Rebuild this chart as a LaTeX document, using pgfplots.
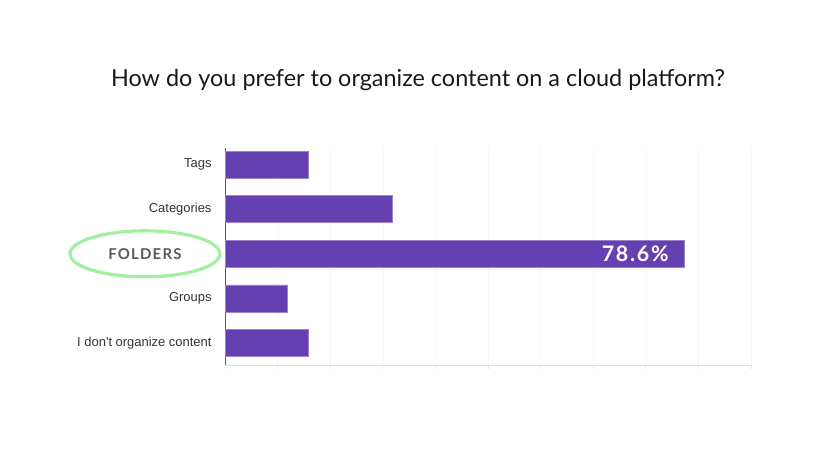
\documentclass[border=0pt]{standalone}
\usepackage{fontspec}
\setmainfont{Liberation Sans}
\newfontfamily\latof{Lato}
\newfontfamily\latosp[LetterSpace=8]{Lato}
\usepackage{pgfplots}
\pgfplotsset{compat=1.18}
\definecolor{barP}{HTML}{6540B1}
\definecolor{ringG}{HTML}{A2F09E}
\begin{document}
\begin{tikzpicture}[x=1bp,y=1bp]
\path[use as bounding box] (0,0) rectangle (835,466);
\node[font=\latof\fontsize{23.5}{27}\selectfont, text=black!90] at (418,386) {How do you prefer to organize content on a cloud platform?};
\begin{axis}[
  at={(225bp,101bp)}, anchor=south west, scale only axis,
  width=526bp, height=217bp,
  xbar, xmin=0, xmax=90, ymin=-0.49, ymax=4.37,
  bar width=27bp, clip=false,
  axis lines*=left,
  x axis line style={draw=black!12, line width=0.8bp},
  y axis line style={draw=black!65, line width=0.8bp},
  xtick={0,9,...,90}, xticklabels={},
  tick align=outside, major tick length=4bp,
  xtick style={draw=black!10, line width=0.8bp},
  ytick style={draw=none},
  xmajorgrids, major grid style={draw=black!3, line width=0.6bp},
  ytick={0,1,2,3,4},
  yticklabels={I don{\textquotesingle}t organize content,Groups,{},Categories,Tags},
  yticklabel style={font=\fontsize{13}{15}\selectfont, text=black!80, xshift=-6bp},
]
\addplot[fill=barP, draw=barP!65!white, line width=0.8bp] coordinates {
  (14.3,0) (10.7,1) (78.6,2) (28.6,3) (14.3,4)};
\node[anchor=east, text=white, font=\latosp\bfseries\fontsize{21.5}{25}\selectfont] at (axis cs:76.5,2) {78.6\%};
\node[text=black!65, font=\latosp\bfseries\fontsize{15}{18}\selectfont] at (axis cs:-13.7,2) {FOLDERS};
\draw[ringG, line width=3.2bp] (axis cs:-13.7,2) ellipse [x radius=75bp, y radius=23bp];
\end{axis}
\end{tikzpicture}
\end{document}
